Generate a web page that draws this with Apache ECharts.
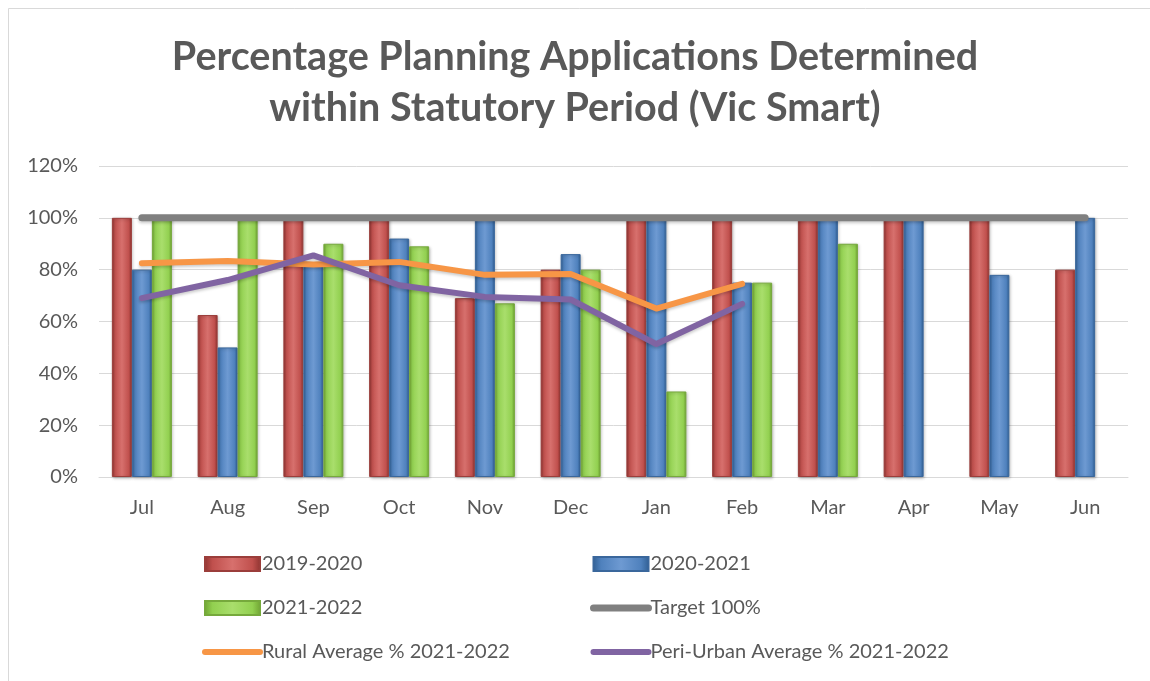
<!DOCTYPE html>
<html>
<head>
<meta charset="utf-8">
<script src="https://cdn.jsdelivr.net/npm/echarts@6/dist/echarts.min.js"></script>
<style>
  html, body { margin: 0; padding: 0; background: #fff; }
  #chart { width: 1150px; height: 681px; }
</style>
</head>
<body>
<div id="chart"></div>
<script>
// 月份
const months = ['Jul', 'Aug', 'Sep', 'Oct', 'Nov', 'Dec', 'Jan', 'Feb', 'Mar', 'Apr', 'May', 'Jun'];
// 各年度百分比
const y2019 = [100, 62.5, 100, 100, 69, 80, 100, 100, 100, 100, 100, 80];
const y2020 = [80, 50, 82, 92, 100, 86, 100, 75, 100, 100, 78, 100];
const y2021 = [100, 100, 90, 89, 67, 80, 33, 75, 90, null, null, null];
const target = [100, 100, 100, 100, 100, 100, 100, 100, 100, 100, 100, 100];
const rural = [82.5, 83.3, 82, 83, 78, 78.3, 65, 74.5, null, null, null, null];
const periUrban = [69, 76, 85.5, 74, 69.5, 68.5, 51.3, 66.8, null, null, null, null];
const yTicks = [0, 20, 40, 60, 80, 100, 120];

const font = 'Lato, "Open Sans", sans-serif';
const textColor = '#595959';

//横向渐变，模拟 Excel 的斜角效果
function bevel(dark, base, light) {
  return new echarts.graphic.LinearGradient(0, 0, 1, 0, [
    { offset: 0, color: dark },
    { offset: 0.15, color: base },
    { offset: 0.5, color: light },
    { offset: 0.85, color: base },
    { offset: 1, color: dark }
  ]);
}

function barSeries(name, data, dark, base, light, border) {
  return {
    name: name,
    type: 'bar',
    data: data,
    barWidth: 20,
    barGap: '0%',
    itemStyle: {
      color: bevel(dark, base, light),
      borderColor: border,
      borderWidth: 1,
      shadowColor: 'rgba(0,0,0,0.25)',
      shadowBlur: 3,
      shadowOffsetX: 1,
      shadowOffsetY: 1
    }
  };
}

function lineSeries(name, data, color, width) {
  return {
    name: name,
    type: 'line',
    data: data,
    symbol: 'none',
    z: 5,
    lineStyle: {
      color: color,
      width: width,
      cap: 'round',
      join: 'round',
      shadowColor: 'rgba(0,0,0,0.2)',
      shadowBlur: 3,
      shadowOffsetY: 2
    },
    itemStyle: { color: color }
  };
}

//图例中的折线项：隐藏圆点，只留粗线
function lineLegend(name) {
  return { name: name, itemStyle: { opacity: 0 } };
}

var legendText = { fontFamily: font, fontSize: 20, color: textColor, padding: [0, 0, 0, -3] };

var chartDom = document.getElementById('chart');
var myChart = echarts.init(chartDom);
var option = {
  backgroundColor: '#fff',
  animation: false,
  textStyle: { fontFamily: font },
  //外框
  graphic: [{
    type: 'rect',
    shape: { x: 8.5, y: 8.5, width: 1200, height: 700 },
    style: { fill: 'none', stroke: '#D9D9D9', lineWidth: 1 },
    silent: true
  }],
  title: {
    text: 'Percentage Planning Applications Determined\nwithin Statutory Period (Vic Smart)',
    left: 'center',
    top: 27,
    textStyle: {
      fontFamily: font,
      fontSize: 39.5,
      fontWeight: 'bold',
      color: textColor,
      lineHeight: 51
    }
  },
  legend: [{
    orient: 'vertical',
    left: 197,
    top: 549,
    itemGap: 24,
    itemWidth: 55,
    itemHeight: 14,
    textStyle: legendText,
    lineStyle: { width: 'inherit', cap: 'round' },
    data: [
      { name: '2019-2020', icon: 'rect' },
      { name: '2021-2022', icon: 'rect' },
      lineLegend('Rural Average % 2021-2022')
    ]
  }, {
    orient: 'vertical',
    left: 585,
    top: 549,
    itemGap: 24,
    itemWidth: 55,
    itemHeight: 14,
    textStyle: legendText,
    lineStyle: { width: 'inherit', cap: 'round' },
    data: [
      { name: '2020-2021', icon: 'rect' },
      lineLegend('Target 100%'),
      lineLegend('Peri-Urban Average % 2021-2022')
    ]
  }],
  grid: {
    left: 99,
    right: 22,
    top: 166,
    bottom: 204
  },
  xAxis: {
    type: 'category',
    data: months,
    axisTick: { show: false },
    axisLine: { lineStyle: { color: '#D9D9D9', width: 1 } },
    axisLabel: { color: textColor, fontSize: 20, margin: 21, fontFamily: font }
  },
  yAxis: {
    type: 'value',
    min: yTicks[0],
    max: yTicks[yTicks.length - 1],
    interval: 20,
    axisLabel: { formatter: '{value}%', color: textColor, fontSize: 20, margin: 21, fontFamily: font },
    axisLine: { show: false },
    axisTick: { show: false },
    splitLine: { lineStyle: { color: '#D9D9D9', width: 1 } }
  },
  series: [
    barSeries('2019-2020', y2019, '#8E3330', '#C0504D', '#D7706D', '#9B3E3B'),
    barSeries('2020-2021', y2020, '#2F5E92', '#4F81BD', '#6E9AD2', '#3A679C'),
    barSeries('2021-2022', y2021, '#6FA232', '#92D050', '#A9DE6C', '#76A93C'),
    lineSeries('Target 100%', target, '#808080', 7),
    lineSeries('Rural Average % 2021-2022', rural, '#F79646', 6),
    lineSeries('Peri-Urban Average % 2021-2022', periUrban, '#8064A2', 6)
  ]
};
option && myChart.setOption(option);
</script>
</body>
</html>
